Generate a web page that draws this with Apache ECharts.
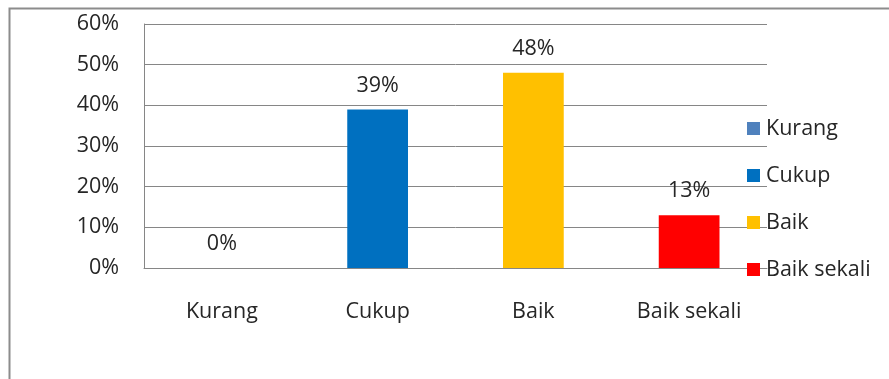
<!DOCTYPE html>
<html>
<head>
<meta charset="utf-8">
<script src="https://cdn.jsdelivr.net/npm/echarts@6/dist/echarts.min.js"></script>
<style>
  html, body { margin: 0; padding: 0; background: #fff; }
  #chart { width: 889px; height: 379px; }
</style>
</head>
<body>
<div id="chart"></div>
<script>
  var categories = ['Kurang', 'Cukup', 'Baik', 'Baik sekali'];
  var values = [0, 39, 48, 13];
  var colors = ['#4F81BD', '#0070C0', '#FFC000', '#FF0000'];
  var yTicks = [0, 10, 20, 30, 40, 50, 60];

  var font = '"Open Sans", Lato, sans-serif';
  var fontSize = 21.5;
  var textColor = '#262626';

  // one series per category so the legend shows each one
  var series = categories.map(function (name, i) {
    var data = categories.map(function (c, j) { return j === i ? values[i] : '-'; });
    return {
      name: name,
      type: 'bar',
      stack: 'all',
      barWidth: '39%',
      data: data,
      itemStyle: { color: colors[i] },
      label: {
        show: true,
        position: 'top',
        distance: 13,
        formatter: '{c}%',
        fontFamily: font,
        fontSize: fontSize,
        color: textColor
      }
    };
  });

  var chart = echarts.init(document.getElementById('chart'));
  chart.setOption({
    animation: false,
    graphic: [{
      type: 'rect',
      shape: { x: 9.5, y: 8.5, width: 1000, height: 500 },
      style: { fill: 'none', stroke: '#8c8c8c', lineWidth: 2 },
      silent: true
    }],
    grid: { left: 144, top: 24, width: 623, height: 244 },
    legend: {
      orient: 'vertical',
      left: 742,
      top: 110,
      itemWidth: 13,
      itemHeight: 13,
      itemGap: 20,
      icon: 'rect',
      selectedMode: false,
      textStyle: { fontFamily: font, fontSize: fontSize, color: textColor, lineHeight: 27, padding: [0, 0, 0, 1] }
    },
    xAxis: {
      type: 'category',
      data: categories,
      axisLine: { lineStyle: { color: '#868686' } },
      axisTick: { show: false },
      axisLabel: { margin: 33, fontFamily: font, fontSize: fontSize, color: textColor }
    },
    yAxis: {
      type: 'value',
      min: yTicks[0],
      max: yTicks[yTicks.length - 1],
      interval: 10,
      axisLine: { show: true, lineStyle: { color: '#868686' } },
      axisTick: { show: false },
      splitLine: { lineStyle: { color: '#868686' } },
      axisLabel: { margin: 25, formatter: '{value}%', fontFamily: font, fontSize: fontSize, color: textColor }
    },
    series: series
  });
</script>
</body>
</html>
